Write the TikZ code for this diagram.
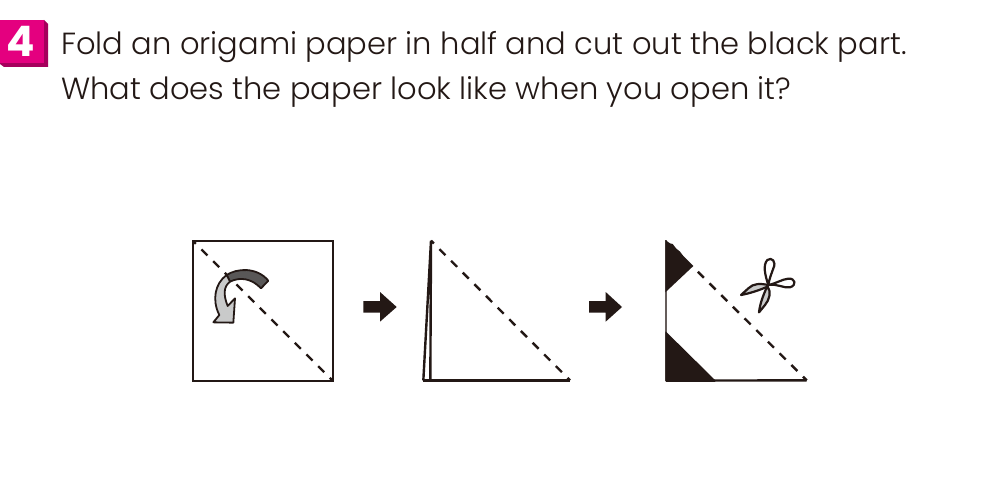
\documentclass[tikz,border=0pt]{standalone}
\usepackage{fontspec}
\setmainfont{Poppins}[UprightFont=* Light,BoldFont=* Bold]
\definecolor{ink}{HTML}{231815}
\definecolor{badge}{HTML}{E4007F}
\definecolor{badgedark}{HTML}{A5005C}
\definecolor{armdark}{HTML}{595757}
\definecolor{armlight}{HTML}{C9CACA}
\tikzset{
  paper/.style={draw=ink,line width=2.6pt,fill=white,line join=miter},
  foldline/.style={draw=ink,line width=2.4pt,dash pattern=on 8.5pt off 8pt,dash phase=4.5pt},
  block/.style={fill=ink,draw=none},
  curl/.style={draw=ink,line width=1.8pt,line join=round},
  snip/.style={draw=ink,line width=2.2pt,line join=round},
  qtext/.style={anchor=base west,inner sep=0pt,text=ink,font=\fontsize{30.55}{31}\selectfont},
}
\begin{document}
\begin{tikzpicture}[x=1pt,y=-1pt]
\useasboundingbox (0,0) rectangle (1000,500);
\fill[white] (0,0) rectangle (1000,500);
% badge
\fill[badgedark] (0,63) -- (0,64) -- (4,67) -- (48,67) -- (48,24) -- (44,20) -- cycle;
\fill[badge] (0,20) rectangle (44,63);
\node[anchor=base,inner sep=0pt,text=white,font=\fontsize{42}{42}\selectfont\bfseries] (num) at (21,57) {4};
\node[qtext] (l1) at (61,55) {Fold an origami paper in half and cut out the black part.};
\node[qtext] (l2) at (61,100) {What does the paper look like when you open it?};
% first figure
\draw[paper] (193,241) rectangle (333,381);
\coordinate (a1) at (193,241);
\coordinate (b1) at (333,381);
\draw[foldline] (a1) -- (b1);
\begin{scope}[shift={(180,230)},scale=1/3]
\draw[curl,fill=armdark] (140,135) .. controls (170,115) and (230,110) .. (265,152) -- (243,175) .. controls (215,145) and (180,140) .. (150,155) -- cycle;
\draw[curl,fill=armlight] (140,135) .. controls (105,160) and (95,210) .. (118,255) -- (100,277) -- (160,278) -- (165,205) -- (143,228) .. controls (130,195) and (130,170) .. (150,155) -- cycle;
\end{scope}
% arrows
\begin{scope}[shift={(355,230)},scale=1/3]
\fill[ink] (25,213) -- (75,213) -- (75,186) -- (125,231) -- (75,275) -- (75,248) -- (25,248) -- cycle;
\fill[ink] (702,213) -- (752,213) -- (752,186) -- (801,231) -- (752,275) -- (752,248) -- (702,248) -- cycle;
% second figure
\coordinate (a2) at (228,32);
\coordinate (b2) at (645,451);
\coordinate (c2) at (205,451);
\coordinate (d2) at (226,451);
\draw[ink,line width=2.4pt] (c2) -- (a2) -- (d2);
\draw[ink,line width=2.4pt] (c2) -- (b2);
\draw[foldline] (a2) -- (b2);
\end{scope}
% third figure
\begin{scope}[shift={(650,230)},scale=1/3]
\coordinate (a3) at (48,30);
\coordinate (b3) at (470,451);
\coordinate (c3) at (48,452);
\draw[ink!70,line width=1.4pt] (a3) -- (c3);
\draw[ink,line width=2.4pt] (c3) -- (b3);
\fill[block] (46,30) -- (60,40) -- (68,42) -- (78,55) -- (90,65) -- (100,78) -- (130,108) -- (46,187) -- cycle;
\fill[block] (48,305) -- (195,450) -- (195,454) -- (46,454) -- (46,305) -- cycle;
\begin{scope}
\clip (135,95) rectangle (480,460);
\draw[foldline] (a3) -- (b3);
\end{scope}
\end{scope}
% scissors
\begin{scope}[shift={(730,250)},scale=1/3]
\draw[snip] (115,105) .. controls (105,75) and (98,45) .. (112,30) .. controls (125,20) and (140,35) .. (130,55) .. controls (125,70) and (118,85) .. (115,105) -- cycle;
\draw[snip] (115,105) .. controls (140,100) and (155,88) .. (175,86) .. controls (195,84) and (202,105) .. (180,112) .. controls (160,115) and (140,100) .. (115,105) -- cycle;
\draw[snip,fill=armlight] (115,105) .. controls (90,100) and (70,100) .. (55,115) -- (33,135) .. controls (60,130) and (90,120) .. (112,110) -- cycle;
\draw[snip,fill=armlight] (112,108) .. controls (125,125) and (118,150) .. (105,165) -- (87,187) .. controls (90,160) and (100,135) .. (112,108) -- cycle;
\end{scope}
\end{tikzpicture}
\end{document}
